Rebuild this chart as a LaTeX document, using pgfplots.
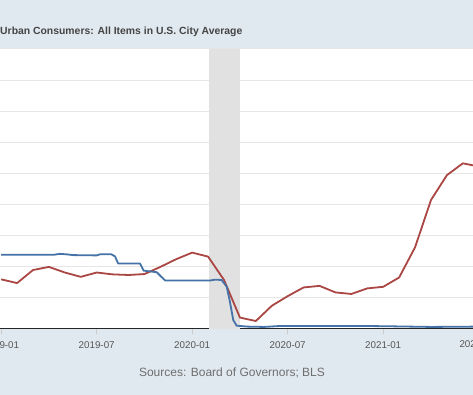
\documentclass[border=0pt]{standalone}
\usepackage{fontspec}
\setmainfont{Liberation Sans}
\usepackage{pgfplots}
\pgfplotsset{compat=1.18}
\definecolor{fredbg}{HTML}{E1E9F0}
\definecolor{fredblue}{HTML}{4572A7}
\definecolor{fredred}{HTML}{AA4643}
\definecolor{recgray}{HTML}{E1E1E1}
\definecolor{gridgray}{HTML}{E6E6E6}
\definecolor{titlegray}{HTML}{444444}
\definecolor{labgray}{HTML}{555555}
\definecolor{srcgray}{HTML}{6E6E6E}
\begin{document}
\begin{tikzpicture}
\useasboundingbox (0,-66.2bp) rectangle (473bp,328.8bp);
\fill[fredbg] (0,-66.2bp) rectangle (473bp,328.8bp);
\node[anchor=west, inner sep=0pt, font=\bfseries\fontsize{10.4bp}{12bp}\selectfont, text=titlegray] at (0bp,297.3bp) {Urban Consumers: All Items in U.S. City Average};
\begin{axis}[
  name=main,
  at={(0,0)}, anchor=south west,
  scale only axis, width=473bp, height=279.9bp,
  xmin=-0.0735, xmax=29.64, ymin=0, ymax=9,
  axis background/.style={fill=white},
  axis x line*=bottom, axis y line*=left,
  x axis line style={draw=black!85, line width=1.3bp},
  y axis line style={draw=none},
  ytick={0,1,...,9}, yticklabels={},
  ymajorgrids, grid style={draw=gridgray, line width=0.8bp},
  ytick style={draw=none},
  xtick={0,6,12,18,24},
  xticklabels={2019-01,2019-07,2020-01,2020-07,2021-01},
  tick align=outside, major tick length=5bp,
  xtick style={draw=gray!40, line width=0.6bp},
  xticklabel style={font=\fontsize{9.8bp}{11bp}\selectfont, text=labgray, anchor=north, inner sep=0pt, yshift=-7.5bp},
  clip mode=individual,
]
\addplot[fill=recgray, draw=none] coordinates {(13.05,0) (13.05,9) (15,9) (15,0)} -- cycle;
\addplot[fredred, line width=1.8bp, line join=round] coordinates {
(0,1.59) (1,1.47) (2,1.89) (3,1.99) (4,1.81) (5,1.67) (6,1.81) (7,1.75) (8,1.73) (9,1.76) (10,1.99) (11,2.24)
(12,2.45) (13,2.32) (14,1.57) (15,0.36) (16,0.25) (17,0.74) (18,1.05) (19,1.33) (20,1.38) (21,1.17) (22,1.12) (23,1.30)
(24,1.35) (25,1.65) (26,2.62) (27,4.14) (28,4.94) (29,5.32) (30,5.22)
};
\addplot[fredblue, line width=1.8bp, line join=round] coordinates {
(0,2.38) (3.3,2.38) (3.7,2.41) (4.2,2.39) (4.5,2.37) (6.0,2.36) (6.25,2.40) (6.9,2.40) (7.15,2.33) (7.35,2.10)
(8.72,2.10) (8.95,1.87) (9.77,1.82) (10.3,1.55) (13.1,1.55) (13.43,1.58) (13.85,1.57) (14.17,1.35) (14.37,0.87)
(14.58,0.28) (14.79,0.10) (15.5,0.07) (16.5,0.06) (17.5,0.09) (20,0.09) (23,0.09) (24.5,0.08) (27,0.06) (29.7,0.07)
};
\end{axis}
\node[anchor=north, inner sep=0pt, font=\fontsize{9.8bp}{11bp}\selectfont, text=labgray] at (477.5bp,-11.5bp) {2021-07};
\node[inner sep=0pt, font=\fontsize{12bp}{14bp}\selectfont, text=srcgray] at (232bp,-44.2bp) {Sources: Board of Governors; BLS};
\end{tikzpicture}
\end{document}
